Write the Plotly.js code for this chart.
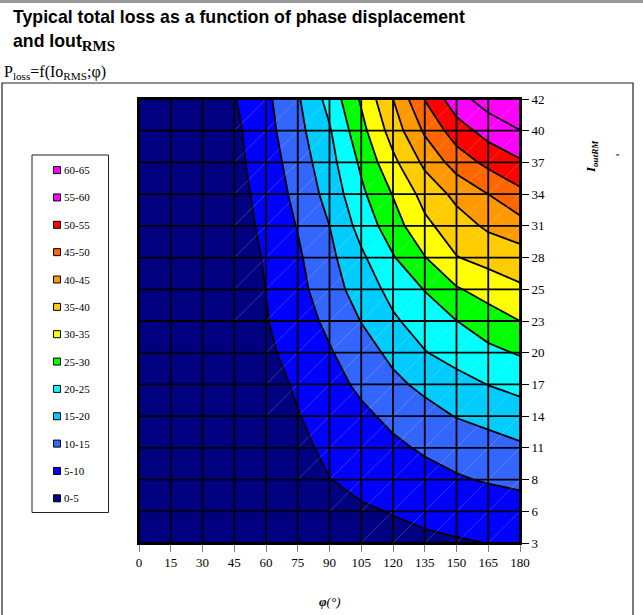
<!DOCTYPE html>
<html><head><meta charset="utf-8">
<script src="https://cdn.plot.ly/plotly-3.0.1.min.js"></script>
<style>html,body{margin:0;padding:0;background:#fff}#chart{width:643px;height:615px}</style>
</head><body><div id="chart"></div>
<script>
// phase displacement (degrees)
const phiDeg = [0, 15, 30, 45, 60, 75, 90, 105, 120, 135, 150, 165, 180];
// output current categories (A RMS)
const ioutRms = ['3', '6', '8', '11', '14', '17', '20', '23', '25', '28', '31', '34', '37', '40', '42'];

// total loss (W) along phiDeg, one array per IoutRMS value
const loss_3A  = [0.2, 0.3, 0.5, 1.2, 2.0, 2.7, 3.1, 3.5, 3.9, 4.3, 4.65, 5.05, 5.6];
const loss_6A  = [0.3, 0.4, 0.6, 1.3, 2.2, 3.3, 3.9, 4.5, 5.18, 5.86, 6.5, 7.2, 7.9];
const loss_8A  = [0.4, 0.5, 0.8, 1.3, 2.35, 3.77, 4.92, 6.08, 7.23, 8.38, 9.54, 10.4, 11.1];
const loss_11A = [0.5, 0.6, 0.9, 1.3, 2.5, 4.11, 5.78, 7.44, 9.1, 10.6, 11.8, 13.1, 14.3];
const loss_14A = [0.6, 0.7, 1.0, 1.3, 2.7, 4.79, 6.9, 9.01, 11.1, 13.2, 15.2, 16.4, 17.6];
const loss_17A = [0.7, 0.8, 1.1, 1.3, 3.06, 5.66, 8.26, 10.96, 13.85, 16.2, 18.2, 20.1, 21.5];
const loss_20A = [0.8, 0.9, 1.2, 1.4, 4.03, 6.83, 9.56, 12.85, 16.2, 19.76, 21.9, 23.9, 25.4];
const loss_23A = [0.9, 1.0, 1.3, 1.5, 4.74, 7.77, 11.1, 15.14, 19.3, 22.2, 24.95, 27.5, 30.0];
const loss_25A = [1.0, 1.1, 1.4, 1.55, 5.07, 8.6, 12.7, 17.35, 21.5, 25.2, 29.5, 32.1, 34.3];
const loss_28A = [1.1, 1.3, 1.6, 1.87, 5.57, 9.26, 13.8, 19.1, 24.6, 29.8, 34.8, 36.6, 37.6];
const loss_31A = [1.2, 1.4, 1.8, 2.4, 6.3, 10.25, 15.0, 21.8, 27.8, 33.8, 37.8, 40.85, 43.2];
const loss_34A = [1.3, 1.6, 2.1, 2.96, 7.0, 11.3, 16.75, 24.0, 30.25, 36.8, 41.3, 45.0, 48.7];
const loss_37A = [1.5, 1.8, 2.4, 3.56, 7.6, 12.3, 18.2, 25.9, 33.8, 41.1, 47.2, 51.3, 54.3];
const loss_40A = [1.7, 2.0, 2.7, 3.9, 8.3, 13.5, 19.5, 28.4, 37.2, 45.75, 52.6, 57.0, 59.9];
const loss_42A = [1.9, 2.3, 3.1, 4.7, 8.9, 14.4, 21.7, 30.7, 40.0, 50.2, 58.1, 62.3, 64.5];

// legend bands
const bandLabels = ['0-5', '5-10', '10-15', '15-20', '20-25', '25-30', '30-35', '35-40', '40-45', '45-50', '50-55', '55-60', '60-65'];
const bandColors = ['#000080', '#0000FF', '#3366FF', '#00CCFF', '#00FFFF', '#00FF00', '#FFFF00', '#FFCC00', '#FF9900', '#FF6600', '#FF0000', '#FF00FF', '#FF00FF'];

const zRows = [loss_3A, loss_6A, loss_8A, loss_11A, loss_14A, loss_17A, loss_20A, loss_23A, loss_25A, loss_28A, loss_31A, loss_34A, loss_37A, loss_40A, loss_42A];
const yIdx = ioutRms.map((_, i) => i);

// layout geometry (pixels)
const W = 643, H = 615, ML = 139, MR = 123, MT = 99, MB = 72;
const pw = W - ML - MR, ph = H - MT - MB;
const px = x => (x - ML) / pw;
const py = y => (H - MB - y) / ph;

const nb = bandColors.length;
const colorscale = [];
bandColors.forEach((c, i) => { colorscale.push([i / nb, c]); colorscale.push([(i + 1) / nb, c]); });

const trace = {
  type: 'contour', x: phiDeg, y: yIdx, z: zRows,
  colorscale: colorscale, showscale: false, autocontour: false,
  zmin: 0, zmax: 65,
  contours: { start: 5, end: 60, size: 5, coloring: 'fill', showlines: true },
  line: { color: '#000', width: 1.8, smoothing: 0 },
  hoverinfo: 'skip'
};

const shapes = [];
const annotations = [];

// top grey rule and outer frame
shapes.push({ type: 'rect', xref: 'paper', yref: 'paper', x0: px(0), x1: px(W), y0: py(0), y1: py(3), fillcolor: '#9a9a9a', line: { width: 0 }, layer: 'below' });
shapes.push({ type: 'rect', xref: 'paper', yref: 'paper', x0: px(2), x1: px(633), y0: py(83), y1: py(616), line: { color: '#222', width: 1.2 }, layer: 'below' });

// faint cell-diagonal seams (where the cell leaves the lowest band)
for (let k = 0; k < yIdx.length - 1; k++) {
  for (let i = 0; i < phiDeg.length - 1; i++) {
    const m = Math.max(zRows[k][i], zRows[k][i + 1], zRows[k + 1][i], zRows[k + 1][i + 1]);
    if (m > 5) {
      shapes.push({ type: 'line', xref: 'x', yref: 'y', x0: phiDeg[i], x1: phiDeg[i + 1], y0: yIdx[k], y1: yIdx[k + 1],
        line: { color: 'rgba(255,255,255,0.2)', width: 1 } });
    }
  }
}

// grid lines above the contour fill
phiDeg.forEach(p => shapes.push({ type: 'line', xref: 'x', yref: 'y', x0: p, x1: p, y0: yIdx[0], y1: yIdx[yIdx.length - 1], line: { color: '#000', width: 1.8 } }));
yIdx.forEach(k => shapes.push({ type: 'line', xref: 'x', yref: 'y', x0: phiDeg[0], x1: phiDeg[phiDeg.length - 1], y0: k, y1: k, line: { color: '#000', width: 1.8 } }));

// legend box
shapes.push({ type: 'rect', xref: 'paper', yref: 'paper', x0: px(32), x1: px(108.5), y0: py(155), y1: py(512.5), fillcolor: '#fff', line: { color: '#222', width: 1 } });
const legY0 = 498.3, legStep = 27.35;
bandLabels.forEach((lab, i) => {
  const yc = legY0 - i * legStep;
  shapes.push({ type: 'rect', xref: 'paper', yref: 'paper', x0: px(53.5), x1: px(60.5), y0: py(yc + 3.5), y1: py(yc - 3.5), fillcolor: bandColors[i], line: { color: '#000', width: 1 } });
  annotations.push({ xref: 'paper', yref: 'paper', x: px(61.5), y: py(yc), xanchor: 'left', yanchor: 'middle', showarrow: false, text: lab, font: { family: 'Liberation Serif', size: 11, color: '#000' } });
});

// titles
annotations.push({ xref: 'paper', yref: 'paper', x: px(11), y: py(17), xanchor: 'left', yanchor: 'middle', showarrow: false,
  text: '<b>Typical total loss as a function of phase displacement</b>', font: { family: 'Liberation Sans', size: 17.7, color: '#000' } });
annotations.push({ xref: 'paper', yref: 'paper', x: px(11), y: py(43), xanchor: 'left', yanchor: 'middle', showarrow: false,
  text: '<b>and Iout<sub><span style="font-family:Liberation Serif;font-size:15px">RMS</span></sub></b>', font: { family: 'Liberation Sans', size: 17.7, color: '#000' } });
annotations.push({ xref: 'paper', yref: 'paper', x: px(2), y: py(72), xanchor: 'left', yanchor: 'middle', showarrow: false,
  text: 'P<sub>loss</sub>=f(Io<sub>RMS</sub>;φ)', font: { family: 'Liberation Serif', size: 16, color: '#000' } });
// axis titles
annotations.push({ xref: 'paper', yref: 'paper', x: px(329), y: py(601), xanchor: 'center', yanchor: 'middle', showarrow: false,
  text: '<b><i>φ</i></b><i>(°)</i>', font: { family: 'Liberation Serif', size: 13, color: '#000' } });
annotations.push({ xref: 'paper', yref: 'paper', x: px(591), y: py(157), xanchor: 'center', yanchor: 'middle', showarrow: false, textangle: -90,
  text: '<b><i>I<sub>outRM</sub></i></b>', font: { family: 'Liberation Serif', size: 13, color: '#000' } });
annotations.push({ xref: 'paper', yref: 'paper', x: px(617), y: py(155), xanchor: 'center', yanchor: 'middle', showarrow: false, textangle: -90,
  text: '<b><i>s</i></b>', font: { family: 'Liberation Serif', size: 6, color: '#000' } });

const layout = {
  width: W, height: H, margin: { l: ML, r: MR, t: MT, b: MB, pad: 0 },
  paper_bgcolor: '#fff', plot_bgcolor: '#fff', showlegend: false,
  xaxis: { range: [phiDeg[0], phiDeg[phiDeg.length - 1]], tickvals: phiDeg, ticktext: phiDeg.map(String),
    ticks: 'outside', ticklen: 7, tickcolor: '#808080', tickwidth: 1, showgrid: false, zeroline: false,
    showline: true, linecolor: '#000', linewidth: 1.8, mirror: true,
    tickfont: { family: 'Liberation Serif', size: 13, color: '#000' }, fixedrange: true },
  yaxis: { range: [yIdx[0], yIdx[yIdx.length - 1]], side: 'right', tickvals: yIdx, ticktext: ioutRms,
    ticks: 'outside', ticklen: 7, tickcolor: '#000', tickwidth: 1, showgrid: false, zeroline: false,
    showline: true, linecolor: '#000', linewidth: 1.8, mirror: true,
    tickfont: { family: 'Liberation Serif', size: 13, color: '#000' }, fixedrange: true },
  shapes: shapes, annotations: annotations
};

Plotly.newPlot('chart', [trace], layout, { staticPlot: true, displayModeBar: false });
</script>
</body></html>
